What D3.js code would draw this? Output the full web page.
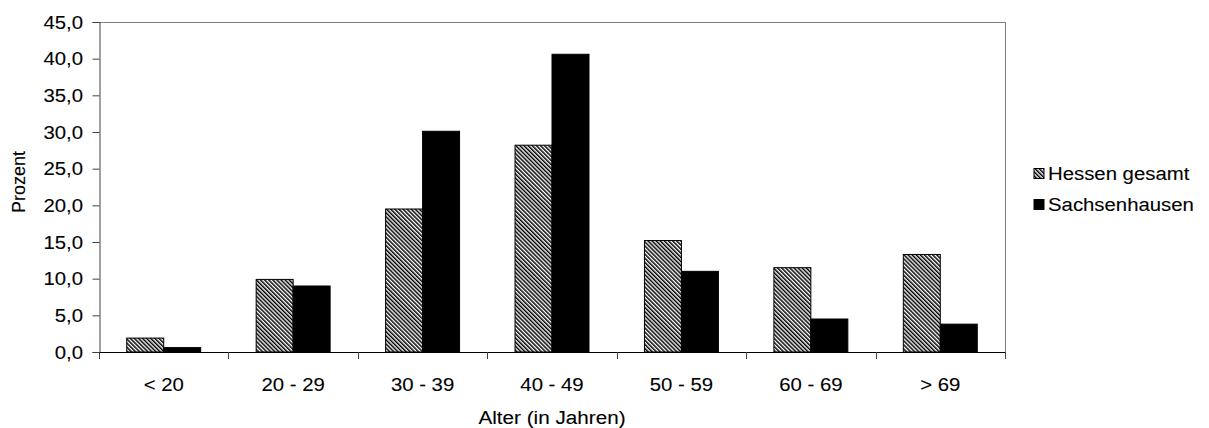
<!DOCTYPE html>
<html>
<head>
<meta charset="utf-8">
<script src="https://cdn.jsdelivr.net/npm/d3@7"></script>
<style>
  html, body { margin: 0; padding: 0; background: #fff; }
  svg text { font-family: "Liberation Sans", Arial, sans-serif; fill: #000; stroke: #000; stroke-width: 0.1px; }
</style>
</head>
<body>
<svg id="chart" width="1209" height="428"></svg>
<script>
const categories = ["< 20", "20 - 29", "30 - 39", "40 - 49", "50 - 59", "60 - 69", "> 69"];
const seriesNames = ["Hessen gesamt", "Sachsenhausen"];
const hessen = [1.9, 9.9, 19.5, 28.2, 15.2, 11.5, 13.3];
const sachsenhausen = [0.6, 9.0, 30.1, 40.6, 11.0, 4.5, 3.8];
const yTicks = [0, 5, 10, 15, 20, 25, 30, 35, 40, 45];

(function () {
const svg = d3.select("#chart");
const pLeft = 99, pRight = 1005, pTop = 22, pBottom = 352;
const SX = 1.1;

const defs = svg.append("defs");
const pat = defs.append("pattern")
  .attr("id", "hatch").attr("patternUnits", "userSpaceOnUse")
  .attr("width", 2.9).attr("height", 2.9)
  .attr("patternTransform", "rotate(-45)");
pat.append("rect").attr("width", 2.9).attr("height", 2.9).attr("fill", "#fff");
pat.append("rect").attr("width", 1.5).attr("height", 2.9).attr("fill", "#000");

const x0 = d3.scaleBand().domain(categories).range([pLeft, pRight]).paddingInner(0).paddingOuter(0);
const barW = x0.bandwidth() / 3.5;
const y = d3.scaleLinear().domain([0, 45]).range([pBottom, pTop]);

function txt(g, x, yy, s, size, anchor) {
  return g.append("text")
    .attr("transform", `translate(${x},${yy}) scale(${SX},1)`)
    .attr("text-anchor", anchor)
    .attr("font-size", size)
    .text(s);
}

// plot frame (top & right)
svg.append("line").attr("x1", pLeft).attr("x2", pRight).attr("y1", pTop + 0.5).attr("y2", pTop + 0.5)
  .attr("stroke", "#808080").attr("stroke-width", 1);
svg.append("line").attr("x1", pRight + 0.5).attr("x2", pRight + 0.5).attr("y1", pTop).attr("y2", pBottom)
  .attr("stroke", "#808080").attr("stroke-width", 1);

// bars
const data = categories.map((c, i) => ({ c, vals: [hessen[i], sachsenhausen[i]] }));
const g = svg.append("g");
data.forEach(d => {
  const start = x0(d.c) + (x0.bandwidth() - 2 * barW) / 2;
  d.vals.forEach((v, j) => {
    g.append("rect")
      .attr("x", start + j * barW)
      .attr("y", y(v))
      .attr("width", barW)
      .attr("height", y(0) - y(v))
      .attr("fill", j === 0 ? "url(#hatch)" : "#000")
      .attr("stroke", "#000")
      .attr("stroke-width", 1);
  });
});

// y axis
const yAxis = d3.axisLeft(y).tickValues(yTicks).tickSize(7).tickFormat("");
const ya = svg.append("g").attr("transform", `translate(${pLeft + 0.5},0)`).call(yAxis);
ya.select(".domain").attr("stroke", "#404040");
ya.selectAll(".tick line").attr("stroke", "#404040");
yTicks.forEach(t => {
  txt(svg, 83, y(t) + 6.5, d3.format(".1f")(t).replace(".", ","), 18.5, "end");
});

// x axis
const boundaries = d3.range(categories.length + 1).map(i => pLeft + i * x0.bandwidth());
const xa = svg.append("g");
xa.append("line").attr("x1", pLeft).attr("x2", pRight + 1).attr("y1", pBottom + 0.5).attr("y2", pBottom + 0.5)
  .attr("stroke", "#000");
boundaries.forEach(b => {
  xa.append("line").attr("x1", Math.round(b) + 0.5).attr("x2", Math.round(b) + 0.5)
    .attr("y1", pBottom).attr("y2", pBottom + 7).attr("stroke", "#404040");
});
categories.forEach(c => {
  txt(svg, x0(c) + x0.bandwidth() / 2, 391, c, 18.5, "middle");
});

// axis titles
txt(svg, (pLeft + pRight) / 2, 423.5, "Alter (in Jahren)", 18.8, "middle");
svg.append("text")
  .attr("transform", `translate(25,182) rotate(-90)`)
  .attr("text-anchor", "middle")
  .attr("font-size", 18)
  .text("Prozent");

// legend
const legY = [173.5, 204.5];
seriesNames.forEach((n, i) => {
  svg.append("rect").attr("x", 1034).attr("y", legY[i] - 5).attr("width", 10).attr("height", 10)
    .attr("fill", i === 0 ? "url(#hatch)" : "#000").attr("stroke", "#000").attr("stroke-width", 1);
  txt(svg, 1048, legY[i] + 6.5, n, 18.5, "start");
});
})();
</script>
</body>
</html>
